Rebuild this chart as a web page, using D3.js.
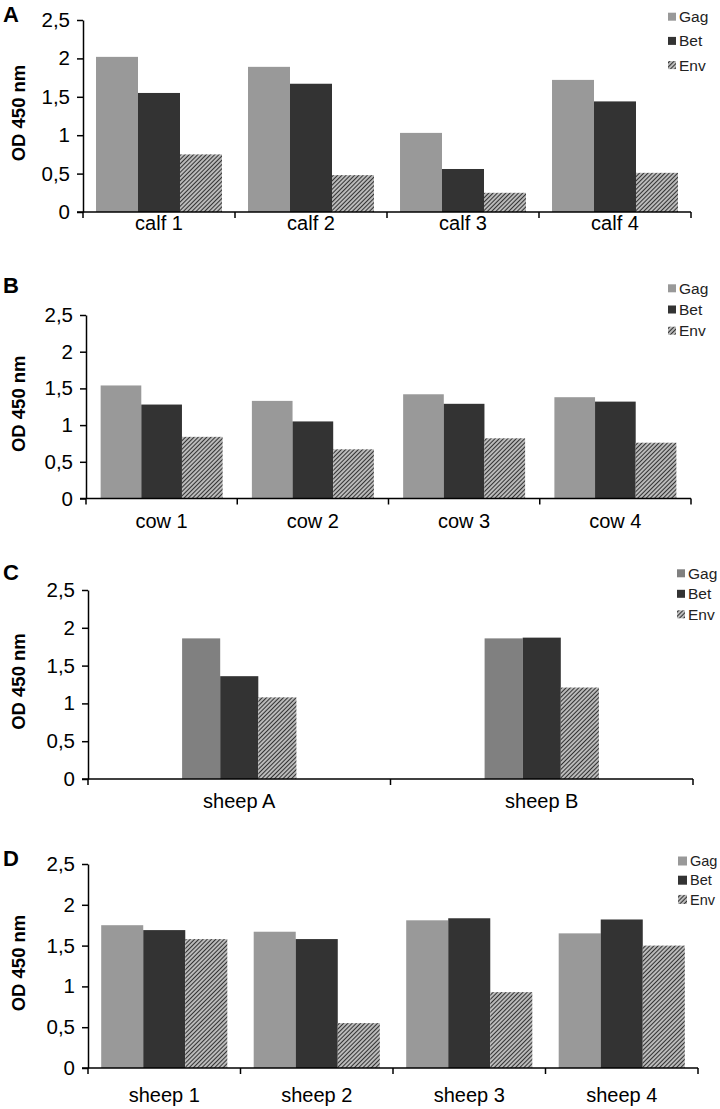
<!DOCTYPE html>
<html lang="en">

<head>
    <meta charset="UTF-8">
    <title>OD 450 nm - Gag / Bet / Env</title>
    <style>
        * {
            margin: 0;
            padding: 0;
        }

        html,
        body {
            overflow: hidden;
            background: #fff;
        }
    </style>
</head>

<body>
    <div id="chart"></div>
    <script src="https://cdn.jsdelivr.net/npm/d3@7"></script>
    <script>
        // data
        const series = ['Gag', 'Bet', 'Env']
        const yTicks = [0, 0.5, 1, 1.5, 2, 2.5]

        const calfCats = ['calf 1', 'calf 2', 'calf 3', 'calf 4']
        const calfGag = [2.02, 1.89, 1.03, 1.72]
        const calfBet = [1.55, 1.67, 0.56, 1.44]
        const calfEnv = [0.75, 0.48, 0.25, 0.51]

        const cowCats = ['cow 1', 'cow 2', 'cow 3', 'cow 4']
        const cowGag = [1.54, 1.33, 1.42, 1.38]
        const cowBet = [1.28, 1.05, 1.29, 1.32]
        const cowEnv = [0.84, 0.67, 0.82, 0.76]

        const sheepABCats = ['sheep A', 'sheep B']
        const sheepABGag = [1.86, 1.86]
        const sheepABBet = [1.36, 1.87]
        const sheepABEnv = [1.08, 1.21]

        const sheepCats = ['sheep 1', 'sheep 2', 'sheep 3', 'sheep 4']
        const sheepGag = [1.75, 1.67, 1.81, 1.65]
        const sheepBet = [1.69, 1.58, 1.835, 1.82]
        const sheepEnv = [1.58, 0.55, 0.93, 1.50]

        const font = 'Liberation Sans, Arial, sans-serif'
        const fmt = v => String(v).replace('.', ',')

        function drawChart() {
            const width = 720
            const height = 1109
            const svg = d3.select('#chart')
                .append('svg')
                .attr('width', width)
                .attr('height', height)
                .style('background', '#fff')

            // hatch for Env
            const pat = svg.append('defs').append('pattern')
                .attr('id', 'hatch')
                .attr('patternUnits', 'userSpaceOnUse')
                .attr('width', 3)
                .attr('height', 3)
                .attr('patternTransform', 'rotate(45)')
            pat.append('rect').attr('width', 3).attr('height', 3).attr('fill', '#f4f4f4')
            pat.append('line')
                .attr('x1', 1.5).attr('y1', 0).attr('x2', 1.5).attr('y2', 3)
                .attr('stroke', '#333').attr('stroke-width', 1.6)

            const panels = [
                { letter: 'A', cats: calfCats, gag: calfGag, bet: calfBet, env: calfEnv, gagColor: '#999',
                  left: 83, right: 691, top: 20, bottom: 212, pad: 0.31, labelDy: 18, letterY: 22,
                  legX: 668, legY: 16.7, legStep: 24.2, sw: 8, legFont: 15.5 },
                { letter: 'B', cats: cowCats, gag: cowGag, bet: cowBet, env: cowEnv, gagColor: '#999',
                  left: 86, right: 691, top: 315, bottom: 498.5, pad: 0.36, labelDy: 29, letterY: 293,
                  legX: 668, legY: 288.3, legStep: 21.2, sw: 8, legFont: 15.5 },
                { letter: 'C', cats: sheepABCats, gag: sheepABGag, bet: sheepABBet, env: sheepABEnv, gagColor: '#808080',
                  left: 88, right: 693, top: 590, bottom: 779, pad: 2.47, labelDy: 29, letterY: 580,
                  legX: 677, legY: 573.3, legStep: 20.5, sw: 8, legFont: 15.5 },
                { letter: 'D', cats: sheepCats, gag: sheepGag, bet: sheepBet, env: sheepEnv, gagColor: '#999',
                  left: 88, right: 698, top: 864, bottom: 1068, pad: 0.314, labelDy: 34, letterY: 866,
                  legX: 678, legY: 861, legStep: 19.2, sw: 9, legFont: 14.5 }
            ]

            panels.forEach(p => drawPanel(svg, p))
        }

        function drawPanel(svg, p) {
            const g = svg.append('g')
            const x0 = d3.scaleBand().domain(p.cats).range([p.left, p.right])
            const x1 = d3.scaleBand().domain(series).range([0, x0.bandwidth()])
                .paddingInner(0).paddingOuter(p.pad)
            const y = d3.scaleLinear().domain([0, 2.5]).range([p.bottom, p.top])
            const fill = { Gag: p.gagColor, Bet: '#333', Env: 'url(#hatch)' }

            const rows = p.cats.map((c, i) => ({ cat: c, vals: [p.gag[i], p.bet[i], p.env[i]] }))

            // bars
            g.selectAll('g.grp')
                .data(rows)
                .join('g')
                .attr('class', 'grp')
                .attr('transform', d => `translate(${x0(d.cat)},0)`)
                .selectAll('rect')
                .data(d => series.map((s, i) => ({ s, v: d.vals[i] })))
                .join('rect')
                .attr('x', d => x1(d.s))
                .attr('y', d => y(d.v))
                .attr('width', x1.bandwidth())
                .attr('height', d => y(0) - y(d.v))
                .attr('fill', d => fill[d.s])

            // y axis
            const yAxis = g.append('g')
                .attr('transform', `translate(${p.left},0)`)
                .call(d3.axisLeft(y).tickValues(yTicks).tickFormat(fmt).tickSizeInner(6).tickSizeOuter(0).tickPadding(7))
            yAxis.selectAll('path, line').attr('stroke', '#000').attr('stroke-width', 1.5)
            yAxis.selectAll('text').attr('font-family', font).attr('font-size', 20.5).attr('fill', '#000')

            // x axis line and boundary ticks
            g.append('line')
                .attr('x1', p.left - 6).attr('x2', p.right)
                .attr('y1', y(0)).attr('y2', y(0))
                .attr('stroke', '#000').attr('stroke-width', 1.5)
            const bounds = [p.left].concat(p.cats.map(c => x0(c) + x0.bandwidth()))
            g.selectAll('line.xt')
                .data(bounds)
                .join('line')
                .attr('class', 'xt')
                .attr('x1', d => d).attr('x2', d => d)
                .attr('y1', y(0)).attr('y2', y(0) + 6)
                .attr('stroke', '#000').attr('stroke-width', 1.5)

            // category labels
            g.selectAll('text.cat')
                .data(p.cats)
                .join('text')
                .attr('class', 'cat')
                .attr('x', d => x0(d) + x0.bandwidth() / 2)
                .attr('y', y(0) + p.labelDy)
                .attr('text-anchor', 'middle')
                .attr('font-family', font)
                .attr('font-size', 20)
                .text(d => d)

            // y title
            g.append('text')
                .attr('transform', `translate(19,${(p.top + p.bottom) / 2 - 3}) rotate(-90)`)
                .attr('dy', '0.35em')
                .attr('text-anchor', 'middle')
                .attr('font-family', font)
                .attr('font-weight', 'bold')
                .attr('font-size', 18.5)
                .text('OD 450 nm')

            // panel letter
            g.append('text')
                .attr('x', 3)
                .attr('y', p.letterY)
                .attr('font-family', font)
                .attr('font-weight', 'bold')
                .attr('font-size', 22)
                .text(p.letter)

            // legend
            const leg = g.selectAll('g.leg')
                .data(series)
                .join('g')
                .attr('class', 'leg')
                .attr('transform', (d, i) => `translate(${p.legX},${p.legY + i * p.legStep})`)
            leg.append('rect')
                .attr('x', 0).attr('y', -p.sw / 2)
                .attr('width', p.sw).attr('height', p.sw)
                .attr('fill', d => fill[d])
            leg.append('text')
                .attr('x', p.sw + 3)
                .attr('dy', '0.36em')
                .attr('font-family', font)
                .attr('font-size', p.legFont)
                .attr('fill', '#222')
                .text(d => d)
        }

        drawChart()
    </script>
</body>

</html>
